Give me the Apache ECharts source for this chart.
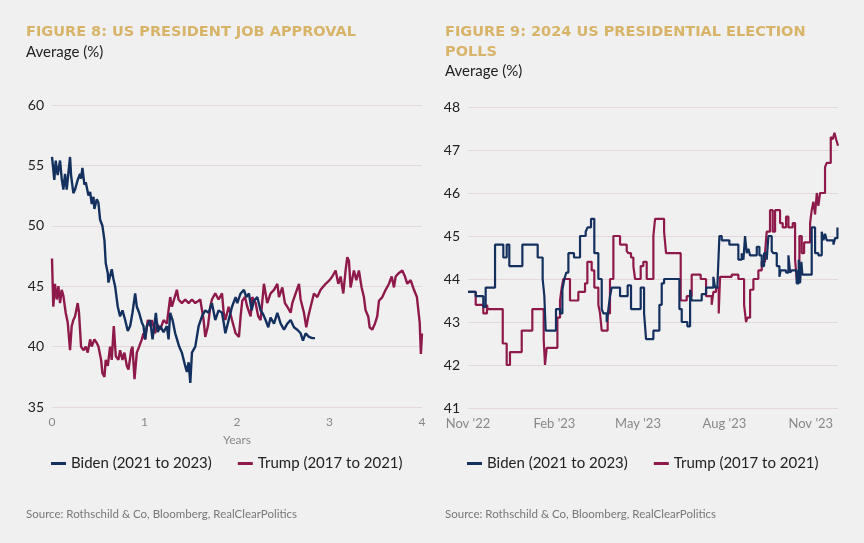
<!DOCTYPE html>
<html><head><meta charset="utf-8">
<script src="https://cdn.jsdelivr.net/npm/echarts@6/dist/echarts.min.js"></script>
<style>html,body{margin:0;padding:0;background:#f1f0f0}#c{width:864px;height:543px}</style>
</head><body><div id="c"></div><script>
// ---- Figure 8: job approval (x = years in office) ----
const bidenYears=[0,0.025,0.04,0.061,0.087,0.105,0.123,0.141,0.159,0.195,0.206,0.231,0.249,0.278,0.303,0.314,0.329,0.35,0.365,0.394,0.412,0.43,0.448,0.458,0.484,0.502,0.52,0.545,0.567,0.581,0.603,0.61,0.646,0.664,0.682,0.711,0.736,0.762,0.791,0.819,0.845,0.87,0.899,0.917,0.942,0.971,0.989,1.007,1.025,1.061,1.087,1.123,1.144,1.17,1.206,1.242,1.26,1.278,1.303,1.332,1.375,1.404,1.44,1.458,1.477,1.495,1.513,1.549,1.585,1.621,1.657,1.693,1.729,1.765,1.801,1.838,1.856,1.874,1.91,1.946,1.985,2.003,2.039,2.075,2.1,2.129,2.158,2.183,2.219,2.255,2.281,2.309,2.338,2.363,2.4,2.436,2.472,2.508,2.544,2.58,2.616,2.652,2.688,2.713,2.742,2.778,2.814,2.843];
const bidenApproval=[55.7,53.8,55.4,54.2,55.4,53.9,53.0,54.3,53.0,55.7,54.2,52.7,53.0,53.8,54.3,53.9,54.8,53.4,53.6,52.5,52.8,51.8,52.4,51.4,52.2,51.9,50.5,50.0,48.8,46.9,46.1,45.3,46.4,45.6,45.0,43.3,42.5,43.0,42.2,41.3,41.7,42.8,44.4,43.3,42.8,42.0,41.7,40.6,41.7,42.2,40.6,42.8,41.2,41.7,41.2,41.7,40.6,42.8,42.2,41.1,40.0,39.5,38.4,37.9,38.7,37.0,39.5,40.0,41.7,42.5,43.0,42.8,43.6,42.2,43.0,42.8,42.0,41.1,42.2,43.3,44.1,43.6,44.4,44.7,44.1,44.4,43.0,43.8,44.1,43.0,42.7,42.2,41.6,42.4,41.9,42.8,41.9,41.4,41.9,42.2,41.6,41.4,41.1,40.5,41.1,40.8,40.7,40.7];
const trumpYears=[0,0.014,0.032,0.051,0.069,0.087,0.105,0.123,0.148,0.17,0.195,0.213,0.231,0.249,0.278,0.292,0.314,0.339,0.365,0.386,0.412,0.43,0.458,0.484,0.502,0.531,0.545,0.567,0.581,0.603,0.628,0.646,0.668,0.69,0.718,0.736,0.762,0.783,0.809,0.827,0.856,0.87,0.892,0.917,0.942,0.971,0.989,1.007,1.036,1.061,1.079,1.116,1.134,1.17,1.206,1.242,1.278,1.296,1.35,1.368,1.404,1.44,1.477,1.513,1.549,1.603,1.639,1.657,1.686,1.711,1.729,1.765,1.801,1.838,1.856,1.874,1.91,1.946,1.985,2.021,2.039,2.057,2.086,2.111,2.147,2.165,2.201,2.23,2.255,2.291,2.327,2.363,2.4,2.436,2.454,2.49,2.518,2.544,2.58,2.598,2.634,2.67,2.688,2.724,2.749,2.771,2.796,2.832,2.868,2.904,2.958,3.001,3.03,3.066,3.095,3.12,3.149,3.174,3.192,3.21,3.228,3.264,3.29,3.318,3.347,3.372,3.39,3.419,3.434,3.462,3.491,3.516,3.535,3.571,3.607,3.643,3.672,3.697,3.715,3.751,3.787,3.816,3.841,3.877,3.913,3.945,3.96,3.975,3.988,4.0];
const trumpApproval=[47.3,43.3,45.2,43.9,45.0,43.6,44.7,44.2,42.8,42.0,39.7,41.7,42.2,42.5,43.6,42.8,40.0,39.7,40.0,39.5,40.6,40.0,40.6,40.3,40.0,38.9,37.8,37.5,38.9,38.4,40.0,38.9,41.7,39.2,38.9,39.7,38.9,39.5,38.4,38.1,39.7,40.0,37.3,39.5,40.0,40.6,41.1,40.6,42.2,41.7,42.2,41.1,41.9,41.4,42.2,41.9,44.1,43.3,44.7,43.9,43.6,43.9,43.6,43.9,43.6,43.9,42.2,40.8,41.7,43.3,43.9,44.4,43.9,44.4,42.8,42.2,43.3,42.2,41.1,40.8,42.5,43.8,44.1,43.3,42.5,44.1,43.6,42.5,42.2,45.2,43.6,44.4,44.7,45.2,44.1,44.9,43.6,43.3,42.8,43.6,44.4,45.2,43.9,42.8,41.6,42.5,43.3,44.4,44.1,44.7,45.2,45.5,45.8,46.3,45.2,45.8,44.4,46.3,47.4,47.1,44.9,46.3,45.5,46.3,44.9,44.1,43.0,42.5,41.6,41.4,41.9,42.5,43.8,44.1,44.7,45.2,45.8,44.9,45.8,46.1,46.3,45.8,45.2,45.5,44.7,44.1,44.0,42.0,39.4,41.1];

// ---- Figure 9: 2024 election polls (x = days since 1 Nov 2022) ----
const bidenPollDays=[0,8.2,16.3,18.8,28.8,37.6,41.2,44,57.9,74.2,79.5,81.3,82.7,93.7,98,100.5,102.6,104.7,106.9,112.9,119.3,125.3,127.4,131,134.5,138.8,142.4,144.1,147.7,149.5,151.2,153,161.9,170,173.6,183.9,187.5,189.6,197.4,203.8,206.3,208.8,225.1,227.6,233.6,236.5,238.2,248.9,253.5,261.3,263.1,265.6,267.7,270.2,278.3,287.9,291.5,293.3,295,296.8,298.6,300.4,307.5,310.3,312.8,315.3,318.1,319.9,323.4,325.2,328.8,331.6,333,338.7,341.2,343,344.7,350,352.2,353.6,355,356.1,366,369.6,373.1,376.7,378.5,380.2,382,389.1,390.9,393.4,394];
const bidenPoll=[43.7,43.6,43.35,43.8,44.8,44.5,44.8,44.3,44.8,44.5,44.0,43.6,42.8,43.3,43.2,43.75,44.0,44.15,44.6,44.5,45.0,45.1,45.2,45.4,44.6,44.0,43.3,43.2,43.0,43.3,43.6,43.8,43.6,43.85,43.3,43.8,43.2,42.6,42.8,43.4,43.9,44.0,43.3,43.0,42.9,43.75,43.5,43.65,43.8,44.05,43.8,43.85,45.0,44.9,44.8,44.45,44.6,44.45,45.0,44.6,44.7,44.55,44.75,44.55,44.3,44.6,44.45,45.0,44.65,44.6,44.3,44.05,44.2,44.15,44.55,44.15,44.2,43.9,44.45,43.9,44.4,44.1,45.2,44.6,44.55,45.1,44.9,45.05,44.9,44.8,44.95,45.2,45.2];
const trumpPollDays=[0,8.2,16.3,20.2,21,37,41.2,44.7,57.2,68.5,80.6,82,83.8,95.2,98,99.8,101.5,108.6,117.5,124.6,127.1,131.7,134.5,138.8,140.6,142.4,148.7,151.2,154.8,161.9,169,170.8,173.6,176.1,177.9,183.9,186.7,190.3,197.4,199.2,208.8,210.9,226.5,232.9,238.2,247.8,253.5,259.5,261.3,264.1,267,268.4,280.8,287.9,294,296.1,297.5,300.4,303.9,309.2,312.8,316.3,318.1,321.6,324.5,327,332.3,335.1,338.7,341.2,345.8,348.3,350,352.9,355.4,357.9,364.3,366,367.8,369.6,371.4,373.1,374.9,380.2,382,386.3,388.4,390.2,392,394];
const trumpPoll=[43.7,43.4,43.2,43.4,43.3,42.5,42.0,42.3,42.8,43.3,42.6,42.0,42.4,43.1,43.5,43.8,44.0,43.5,43.7,43.9,44.4,44.2,43.8,43.4,43.2,42.8,43.2,44.0,45.0,44.8,44.65,44.6,44.5,44.3,44.0,44.3,44.4,44.0,45.0,45.4,45.1,44.6,43.5,43.6,44.1,44.0,43.6,43.4,43.7,43.8,43.2,44.05,44.1,44.0,43.4,43.0,43.1,43.75,44.0,44.2,44.4,44.6,45.1,45.6,45.1,45.6,45.3,45.2,45.45,45.2,45.3,44.45,44.0,45.0,44.6,44.85,45.3,45.6,45.8,45.5,46.0,45.7,46.0,46.6,46.7,47.3,47.25,47.4,47.25,47.1];
const pollTickDays=[0,92,181,273,365];
const pollTickLabels=["Nov '22","Feb '23","May '23","Aug '23","Nov '23"];

const names=['Biden (2021 to 2023)','Trump (2017 to 2021)'];
const BLUE='#13305e', RED='#8e1a4b', GOLD='#d7b468';
const pair=(xs,ys)=>xs.slice(0,Math.min(xs.length,ys.length)).map((x,i)=>[x,ys[i]]);
const FONT='"Source Sans Pro","Lato","Noto Sans",sans-serif';
const TFONT='"DejaVu Sans",sans-serif';

const chart=echarts.init(document.getElementById('c'),null,{renderer:'canvas'});
const yAxisBase={type:'value',axisLine:{show:false},axisTick:{show:false},
  axisLabel:{color:'#222',fontSize:14,margin:8,fontFamily:FONT},
  splitLine:{lineStyle:{color:'#e3d8db',width:1}}};
chart.setOption({
  backgroundColor:'#f1f0f0',
  textStyle:{fontFamily:FONT},
  animation:false,
  title:[
    {text:'FIGURE 8: US PRESIDENT JOB APPROVAL',left:26,top:25,padding:0,textStyle:{color:GOLD,fontSize:14.5,fontWeight:'bold',fontFamily:TFONT}},
    {text:'Average (%)',left:26,top:45,padding:0,textStyle:{color:'#222',fontSize:15,fontWeight:'normal',fontFamily:FONT}},
    {text:'FIGURE 9: 2024 US PRESIDENTIAL ELECTION\nPOLLS',left:445,top:22,padding:0,textStyle:{color:GOLD,fontSize:14.5,fontWeight:'bold',lineHeight:20,fontFamily:TFONT}},
    {text:'Average (%)',left:445,top:64,padding:0,textStyle:{color:'#222',fontSize:15,fontWeight:'normal',fontFamily:FONT}},
    {text:'Source: Rothschild & Co, Bloomberg, RealClearPolitics',left:26,top:508,padding:0,textStyle:{color:'#777',fontSize:11.5,fontWeight:'normal',fontFamily:FONT}},
    {text:'Source: Rothschild & Co, Bloomberg, RealClearPolitics',left:445,top:508,padding:0,textStyle:{color:'#777',fontSize:11.5,fontWeight:'normal',fontFamily:FONT}}
  ],
  legend:[
    {left:46,top:451,data:names,icon:'rect',itemWidth:15,itemHeight:3,itemGap:26,textStyle:{color:'#222',fontSize:15,fontFamily:FONT}},
    {left:462,top:451,data:names,icon:'rect',itemWidth:15,itemHeight:3,itemGap:26,textStyle:{color:'#222',fontSize:15,fontFamily:FONT}}
  ],
  grid:[
    {left:52,right:442,top:105,bottom:136},
    {left:468,right:26,top:107,bottom:135}
  ],
  xAxis:[
    {type:'value',gridIndex:0,min:0,max:4,interval:1,axisLine:{show:false},axisTick:{show:false},splitLine:{show:false},
     axisLabel:{color:'#888',fontSize:12,margin:9},
     name:'Years',nameLocation:'middle',nameGap:27,nameTextStyle:{color:'#888',fontSize:12}},
    {type:'value',gridIndex:1,min:0,max:394,axisLine:{show:false},axisTick:{show:false},splitLine:{show:false},
     axisLabel:{color:'#888',fontSize:13,margin:9,customValues:pollTickDays,showMinLabel:true,showMaxLabel:true,
       formatter:v=>{const i=pollTickDays.indexOf(v);return i<0?'':pollTickLabels[i];}}}
  ],
  yAxis:[
    Object.assign({},yAxisBase,{gridIndex:0,min:35,max:60,interval:5}),
    Object.assign({},yAxisBase,{gridIndex:1,min:41,max:48,interval:1})
  ],
  series:[
    {name:names[0],type:'line',xAxisIndex:0,yAxisIndex:0,data:pair(bidenYears,bidenApproval),showSymbol:false,color:BLUE,lineStyle:{width:2.4,color:BLUE},z:3},
    {name:names[1],type:'line',xAxisIndex:0,yAxisIndex:0,data:pair(trumpYears,trumpApproval),showSymbol:false,color:RED,lineStyle:{width:2.4,color:RED},z:2},
    {name:names[0],type:'line',step:'end',xAxisIndex:1,yAxisIndex:1,data:pair(bidenPollDays,bidenPoll),showSymbol:false,color:BLUE,lineStyle:{width:2.2,color:BLUE},z:3},
    {name:names[1],type:'line',step:'end',xAxisIndex:1,yAxisIndex:1,data:pair(trumpPollDays,trumpPoll),showSymbol:false,color:RED,lineStyle:{width:2.2,color:RED},z:2}
  ]
});
</script></body></html>
